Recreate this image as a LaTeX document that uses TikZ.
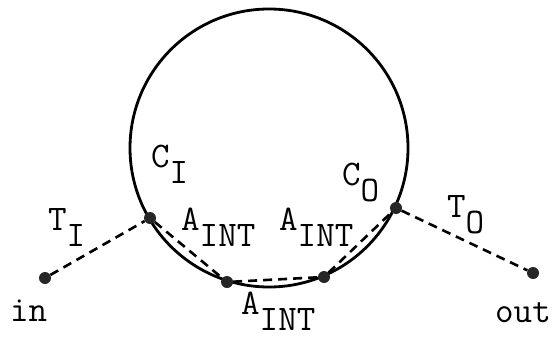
\documentclass[tikz,border=0pt]{standalone}
\newcommand{\lowsub}[1]{\raisebox{-16pt}{#1}}
\begin{document}
\begin{tikzpicture}[x=1pt,y=-1pt, every node/.style={font=\ttfamily\fontsize{36}{38}\selectfont,inner sep=0pt}]
  \tikzstyle{dot}=[circle,fill=black!85,minimum size=12pt]
  \tikzstyle{link}=[line width=2.6pt,dash pattern=on 9pt off 6pt]
  \useasboundingbox (0,0) rectangle (556,337);
  \draw[line width=2.8pt] (269,148) circle [radius=139pt];
  \node[dot] (in) at (45,278) {};
  \node[dot] (ci) at (150,218) {};
  \node[dot] (a1) at (227,282) {};
  \node[dot] (a2) at (324,277) {};
  \node[dot] (co) at (396,208) {};
  \node[dot] (out) at (533,273) {};
  \draw[link] (in) -- (ci);
  \draw[link] (ci) -- (a1);
  \draw[link] (a1) -- (a2);
  \draw[link] (a2) -- (co);
  \draw[link] (co) -- (out);
  \node[anchor=base west] (inlab) at (10,321) {in};
  \node[anchor=base west] (outlab) at (495,322) {out};
  \node[anchor=base west] (tilab) at (48,230) {T\lowsub{I}};
  \node[anchor=base west] (cilab) at (151,167) {C\lowsub{I}};
  \node[anchor=base west] (a1lab) at (181,230) {A\lowsub{INT}};
  \node[anchor=base west] (a2lab) at (279,230) {A\lowsub{INT}};
  \node[anchor=base west] (a3lab) at (241,314) {A\lowsub{INT}};
  \node[anchor=base west] (colab) at (342,185) {C\lowsub{O}};
  \node[anchor=base west] (tolab) at (447,217) {T\lowsub{O}};
\end{tikzpicture}
\end{document}
